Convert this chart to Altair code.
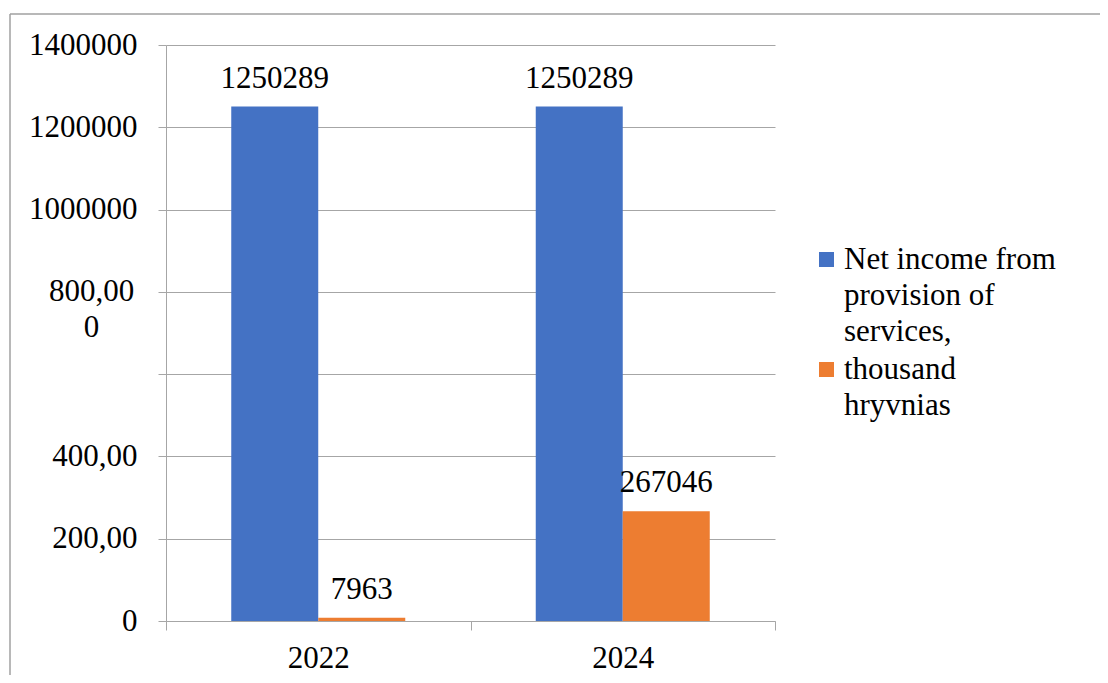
import json
import altair as alt
import pandas as pd

# ---- data ----
years = ["2022", "2024"]
series = ["Net income from provision of services,", "thousand hryvnias"]
series_lines = [["Net income from", "provision of", "services,"], ["thousand", "hryvnias"]]
values_blue = [1250289, 1250289]
values_orange = [7963, 267046]
colors = ["#4472C4", "#ED7D31"]

y_tick_values = [0, 200000, 400000, 600000, 800000, 1000000, 1200000, 1400000]
y_tick_labels = ["0", "200,00", "400,00", "", "800,00|0", "1000000", "1200000", "1400000"]

rows = []
for i, yr in enumerate(years):
    rows.append({"year": yr, "series": series[0], "value": values_blue[i]})
    rows.append({"year": yr, "series": series[1], "value": values_orange[i]})
df = pd.DataFrame(rows)

FONT = "Liberation Serif"
FS = 31
GRAY = "#A6A6A6"


def js_label(lab):
    if "|" in lab:
        return json.dumps(lab.split("|"))
    return json.dumps(lab)


y_expr = "''"
for v, lab in zip(y_tick_values, y_tick_labels):
    y_expr = f"datum.value == {v} ? {js_label(lab)} : ({y_expr})"

leg_expr = "''"
for name, lines in zip(series, series_lines):
    leg_expr = f"datum.label == {json.dumps(name)} ? {json.dumps(lines)} : ({leg_expr})"

x_enc = alt.X(
    "year:N",
    title=None,
    sort=years,
    scale=alt.Scale(paddingInner=0, paddingOuter=0),
    axis=alt.Axis(
        labelFont=FONT, labelFontSize=FS, labelColor="black", labelAngle=0,
        tickBand="extent", tickSize=9, tickColor=GRAY, domainColor=GRAY,
        labelPadding=13, grid=False,
    ),
)
xoff_enc = alt.XOffset("series:N", sort=series,
                       scale=alt.Scale(paddingInner=0, paddingOuter=0.75))
y_enc = alt.Y(
    "value:Q",
    title=None,
    scale=alt.Scale(domain=[0, 1400000], nice=False),
    axis=alt.Axis(
        values=y_tick_values,
        labelExpr=y_expr,
        labelFont=FONT, labelFontSize=FS, labelColor="black",
        labelAlign={"condition": {"test": "datum.value == 800000", "value": "center"}, "value": "right"},
        labelPadding={"condition": {"test": "datum.value == 800000", "value": 67},
                      "value": 21},
        tickSize=8, tickColor=GRAY, domainColor=GRAY,
        grid=True, gridColor=GRAY, labelOverlap=False,
    ),
)
color_enc = alt.Color(
    "series:N",
    sort=series,
    scale=alt.Scale(domain=series, range=colors),
    legend=alt.Legend(
        orient="none", legendX=645, legendY=199, title=None,
        symbolType="square", symbolSize=225, symbolStrokeWidth=0,
        labelFont=FONT, labelFontSize=FS, labelColor="black", labelLimit=0,
        labelOffset=2, labelExpr=leg_expr, labelBaseline="middle",
        rowPadding=6, padding=0,
    ),
)

base = alt.Chart(df).encode(x=x_enc, xOffset=xoff_enc, y=y_enc)

bars = base.mark_bar().encode(color=color_enc)
labels = base.mark_text(font=FONT, fontSize=FS, color="black", baseline="alphabetic", dy=-19).encode(
    text=alt.Text("value:Q", format="d")
)

frame_data = alt.Data(values=[{"k": 1}])
frame_top = alt.Chart(frame_data).mark_rule(color="#A0A0A0", strokeWidth=1.5).encode(
    x=alt.value(-156), x2=alt.value(1000), y=alt.value(-31)
)
frame_left = alt.Chart(frame_data).mark_rule(color="#A0A0A0", strokeWidth=1.5).encode(
    x=alt.value(-156), y=alt.value(-31), y2=alt.value(700)
)

chart = alt.layer(bars, labels, frame_top, frame_left).properties(
    width=609, height=576,
    autosize=alt.AutoSizeParams(type="none"),
    padding={"left": 158, "top": 37, "right": 325, "bottom": 54},
).configure(style={"guide-label": {"lineHeight": 36}}).configure_view(stroke=None)

chart.save("out.html", embed_options={"renderer": "svg", "actions": False})
